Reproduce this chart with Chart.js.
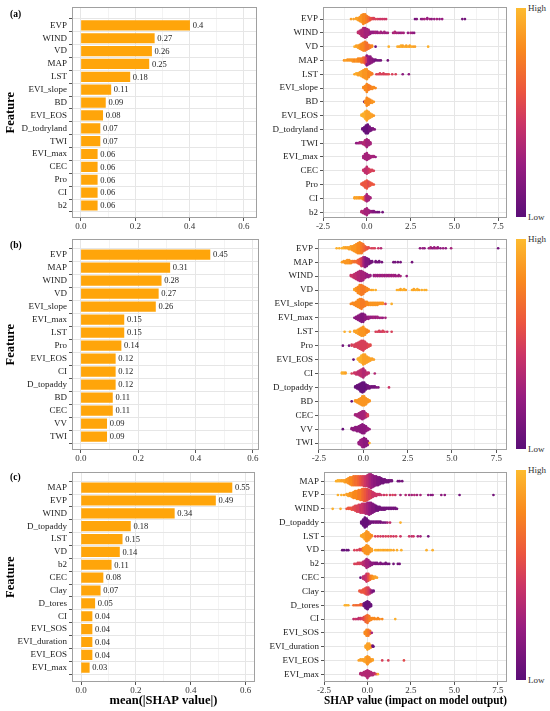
<!DOCTYPE html>
<html>
<head>
<meta charset="utf-8">
<script src="https://cdn.jsdelivr.net/npm/chart.js@4.4.1/dist/chart.umd.min.js"></script>
<style>
  body { margin: 0; background: #fff; }
  #page { position: relative; width: 550px; height: 711px; overflow: hidden; font-family: 'Liberation Serif', 'Times New Roman', serif; }
  canvas { position: absolute; }
  .letter { position: absolute; left: 10px; font-weight: bold; font-size: 9.5px; line-height: 10px; }
  .cb { position: absolute; left: 516px; width: 10px; }
  .cbl { position: absolute; left: 528px; font-size: 9px; line-height: 10px; color: #333; }
</style>
</head>
<body>
<div id="page"></div>
<script>
// ---- data ----
const barTicks = [0, 0.2, 0.4, 0.6];
const shapTicks = [-2.5, 0, 2.5, 5, 7.5];

const featuresA = ['EVP', 'WIND', 'VD', 'MAP', 'LST', 'EVI_slope', 'BD', 'EVI_EOS', 'D_todryland', 'TWI', 'EVI_max', 'CEC', 'Pro', 'CI', 'b2'];
const meanA = [0.4, 0.27, 0.26, 0.25, 0.18, 0.11, 0.09, 0.08, 0.07, 0.07, 0.06, 0.06, 0.06, 0.06, 0.06];

const featuresB = ['EVP', 'MAP', 'WIND', 'VD', 'EVI_slope', 'EVI_max', 'LST', 'Pro', 'EVI_EOS', 'CI', 'D_topaddy', 'BD', 'CEC', 'VV', 'TWI'];
const meanB = [0.45, 0.31, 0.28, 0.27, 0.26, 0.15, 0.15, 0.14, 0.12, 0.12, 0.12, 0.11, 0.11, 0.09, 0.09];

const featuresC = ['MAP', 'EVP', 'WIND', 'D_topaddy', 'LST', 'VD', 'b2', 'CEC', 'Clay', 'D_tores', 'CI', 'EVI_SOS', 'EVI_duration', 'EVI_EOS', 'EVI_max'];
const meanC = [0.55, 0.49, 0.34, 0.18, 0.15, 0.14, 0.11, 0.08, 0.07, 0.05, 0.04, 0.04, 0.04, 0.04, 0.03];

// SHAP values per feature as [shap, how many samples, feature value 0 (low) .. 1 (high)]
const swarmA = [
  [[-0.9,1,.9],[-0.75,1,.9],[-0.6,2,.9],[-0.5,3,.9],[-0.4,5,.85],[-0.3,8,.85],[-0.2,11,.8],[-0.1,10,.8],[0,7,.75],[0.1,5,.7],[0.2,3,.6],[0.3,2,.55],[0.4,2,.5],[0.5,1,.5],[0.6,1,.5],[0.7,1,.45],[0.8,1,.45],[0.9,1,.45],[1.0,1,.45],[1.1,1,.45],[2.75,1,.1],[2.85,1,.15],[3.1,1,.2],[3.2,1,.25],[3.3,1,.3],[3.45,2,.25],[3.6,1,.3],[3.7,1,.2],[3.85,1,.25],[4.0,1,.3],[4.15,1,.2],[4.3,1,.25],[5.45,1,.1],[5.6,1,.1]],
  [[-0.5,2,.4],[-0.4,4,.4],[-0.3,7,.35],[-0.2,10,.35],[-0.1,11,.3],[0,9,.3],[0.1,6,.3],[0.2,3,.25],[0.3,2,.25],[0.4,2,.25],[0.5,2,.3],[0.6,2,.25],[0.7,1,.3],[0.8,2,.3],[0.9,1,.25],[1.0,2,.3],[1.1,1,.25],[1.2,1,.3],[1.5,1,.3],[1.6,2,.35],[1.7,1,.3],[1.8,1,.3],[1.9,1,.25],[2.0,1,.3],[2.1,1,.3],[2.35,1,.25],[2.5,1,.3],[2.6,1,.25],[2.7,1,.2]],
  [[-0.7,1,.95],[-0.6,2,.9],[-0.5,3,.9],[-0.4,5,.85],[-0.3,7,.8],[-0.2,9,.8],[-0.1,10,.75],[0,8,.7],[0.1,5,.7],[0.2,3,.75],[0.3,2,.8],[0.5,1,.05],[1.25,1,.95],[1.75,1,.95],[1.85,1,.9],[1.95,2,.95],[2.05,2,.9],[2.15,1,.95],[2.25,2,.9],[2.35,1,.95],[2.45,2,.9],[2.55,1,.95],[2.65,1,.9],[2.75,1,.9],[3.5,1,.95]],
  [[-1.3,1,.85],[-1.2,1,.9],[-1.1,2,.85],[-1.0,2,.85],[-0.9,2,.85],[-0.8,3,.85],[-0.7,3,.8],[-0.6,3,.85],[-0.5,4,.8],[-0.4,4,.8],[-0.3,5,.75],[-0.2,6,.7],[-0.1,7,.6],[0,8,.45],[0,3,.2],[0.1,9,.25],[0.2,8,.2],[0.3,5,.2],[0.4,3,.15],[0.5,2,.1],[0.6,1,.1],[0.7,1,.1],[0.8,1,.1],[1.2,1,.1]],
  [[-0.7,1,.9],[-0.6,2,.95],[-0.5,3,.9],[-0.4,4,.9],[-0.3,6,.9],[-0.2,8,.85],[-0.1,10,.85],[0,11,.85],[0.1,7,.8],[0.2,4,.8],[0.3,2,.75],[0.55,1,.5],[0.65,1,.5],[0.75,2,.5],[0.85,1,.5],[0.95,2,.5],[1.05,1,.5],[1.15,1,.5],[1.25,1,.55],[1.45,1,.5],[1.65,1,.5],[2.05,1,.2],[2.4,1,.2]],
  [[-0.2,2,.8],[-0.1,5,.8],[0,9,.8],[0.1,6,.75],[0.2,4,.75],[0.3,3,.8],[0.4,2,.8],[0.5,1,.8]],
  [[-0.15,1,.05],[-0.1,3,.8],[0,9,.8],[0.1,7,.8],[0.2,4,.8],[0.3,3,.85],[0.4,1,.85]],
  [[-0.3,2,.95],[-0.2,4,.95],[-0.1,8,.95],[0,11,.9],[0.1,8,.9],[0.2,5,.9],[0.3,3,.9],[0.4,1,.85]],
  [[-0.25,2,.05],[-0.15,5,.05],[-0.05,9,.05],[0.05,10,.05],[0.15,6,.1],[0.25,3,.1],[0.35,2,.15],[0.45,1,.15]],
  [[-0.6,1,.2],[-0.5,1,.25],[-0.4,2,.3],[-0.3,2,.3],[-0.2,3,.35],[-0.1,6,.35],[0,9,.3],[0.1,6,.3],[0.2,3,.3]],
  [[-0.2,3,.3],[-0.1,6,.3],[0,8,.3],[0.1,5,.3],[0.2,3,.3],[0.3,2,.3],[0.4,2,.3],[0.5,1,.25]],
  [[-0.2,2,.45],[-0.1,5,.4],[0,8,.4],[0.1,5,.45],[0.2,3,.5],[0.3,2,.5],[0.4,1,.5]],
  [[-0.3,2,.6],[-0.2,4,.6],[-0.1,7,.6],[0,9,.6],[0.1,6,.55],[0.2,4,.6],[0.3,2,.6],[0.4,1,.6]],
  [[-0.7,2,.9],[-0.6,2,.9],[-0.5,2,.9],[-0.4,2,.85],[-0.3,2,.85],[-0.2,3,.8],[-0.1,5,.5],[0,8,.3],[0.1,5,.3],[0.2,2,.3]],
  [[-0.3,2,.35],[-0.2,3,.35],[-0.1,6,.3],[0,8,.3],[0.1,4,.3],[0.2,2,.25],[0.3,2,.2],[0.4,2,.15],[0.5,1,.15],[0.6,1,.1],[0.7,1,.1],[0.9,1,.1]]
];

const swarmB = [
  [[-1.5,1,.95],[-1.35,1,.95],[-1.2,1,.95],[-1.1,2,.95],[-1.0,2,.9],[-0.9,2,.9],[-0.8,3,.9],[-0.7,4,.9],[-0.6,5,.85],[-0.5,7,.85],[-0.4,9,.85],[-0.3,11,.8],[-0.2,12,.8],[-0.1,11,.75],[0,8,.7],[0.1,5,.65],[0.2,3,.6],[0.3,2,.55],[0.45,1,.5],[0.55,1,.5],[0.65,1,.5],[0.85,1,.45],[1.0,1,.35],[3.2,1,.2],[3.35,1,.25],[3.45,1,.2],[3.7,1,.25],[3.8,2,.3],[3.9,1,.2],[4.0,2,.25],[4.1,1,.3],[4.2,2,.25],[4.35,1,.2],[4.5,1,.25],[4.65,1,.2],[4.95,1,.3],[7.6,1,.1]],
  [[-1.2,1,.9],[-1.1,2,.85],[-1.0,3,.85],[-0.9,4,.85],[-0.8,4,.85],[-0.7,3,.8],[-0.6,2,.75],[-0.5,2,.7],[-0.4,2,.7],[-0.3,4,.65],[-0.2,6,.6],[-0.1,9,.5],[0,10,.35],[0.1,11,.2],[0.2,9,.15],[0.3,6,.15],[0.4,3,.1],[0.5,2,.1],[0.7,2,.1],[0.8,1,.1],[0.9,2,.1],[1.05,1,.1],[1.7,1,.1],[1.8,1,.1],[1.95,1,.1],[2.1,1,.1],[2.75,1,.1]],
  [[-0.7,2,.45],[-0.6,3,.45],[-0.5,5,.4],[-0.4,7,.4],[-0.3,9,.35],[-0.2,11,.35],[-0.1,11,.3],[0,9,.3],[0.1,6,.3],[0.2,4,.25],[0.3,3,.25],[0.4,2,.25],[0.6,2,.25],[0.7,2,.3],[0.8,2,.25],[0.9,2,.3],[1.0,2,.25],[1.1,2,.3],[1.2,2,.25],[1.3,2,.3],[1.4,2,.25],[1.5,2,.3],[1.6,2,.25],[1.7,2,.3],[1.8,2,.25],[1.9,1,.3],[2.0,2,.25],[2.1,1,.3],[2.45,1,.25]],
  [[-0.5,2,.9],[-0.4,4,.85],[-0.3,7,.8],[-0.2,10,.8],[-0.1,11,.75],[0,9,.75],[0.1,6,.75],[0.2,4,.8],[0.3,2,.8],[0.45,1,.9],[0.55,1,.95],[0.7,1,.95],[1.9,1,.95],[2.0,1,.95],[2.1,2,.9],[2.2,1,.95],[2.3,2,.95],[2.4,1,.9],[2.75,1,.95],[2.85,2,.9],[2.95,1,.95],[3.05,2,.95],[3.15,1,.9],[3.3,1,.95],[3.45,1,.95],[3.55,1,.95]],
  [[-0.7,1,.8],[-0.6,2,.8],[-0.5,3,.8],[-0.4,5,.8],[-0.3,8,.8],[-0.2,10,.8],[-0.1,11,.75],[0,8,.75],[0.1,5,.75],[0.2,4,.8],[0.3,3,.8],[0.4,3,.85],[0.5,3,.85],[0.6,3,.85],[0.7,3,.85],[0.8,3,.85],[0.9,2,.85],[1.0,2,.85],[1.1,2,.85],[1.25,1,.5],[1.6,1,.95]],
  [[-0.5,1,.2],[-0.4,3,.2],[-0.3,5,.2],[-0.2,7,.2],[-0.1,9,.15],[0,9,.15],[0.1,6,.2],[0.2,3,.2],[0.3,3,.25],[0.4,2,.25],[0.5,2,.25],[0.6,2,.3],[0.7,2,.25],[0.8,2,.3],[0.9,1,.25],[1.0,1,.3],[1.1,1,.25],[1.25,1,.3]],
  [[-1.05,1,.95],[-0.75,1,.95],[-0.5,2,.9],[-0.4,3,.9],[-0.3,5,.9],[-0.2,7,.85],[-0.1,9,.85],[0,10,.85],[0.1,7,.85],[0.2,4,.8],[0.3,2,.8],[0.7,1,.5],[0.8,1,.5],[0.9,2,.5],[1.0,1,.45],[1.1,2,.5],[1.2,1,.5],[1.35,1,.45],[1.6,1,.5]],
  [[-1.15,1,.1],[-0.8,1,.1],[-0.65,2,.5],[-0.5,3,.5],[-0.4,4,.5],[-0.3,6,.5],[-0.2,8,.5],[-0.1,10,.5],[0,11,.5],[0.1,8,.5],[0.2,5,.5],[0.3,3,.55],[0.4,2,.55]],
  [[-0.55,1,.05],[-0.3,2,.95],[-0.2,5,.95],[-0.1,8,.95],[0,11,.9],[0.1,10,.9],[0.2,7,.9],[0.3,5,.9],[0.4,3,.9],[0.5,2,.9],[0.6,1,.9]],
  [[-1.2,2,.95],[-1.1,2,.95],[-1.0,2,.9],[-0.65,1,.5],[-0.5,2,.45],[-0.4,3,.45],[-0.3,4,.4],[-0.2,6,.4],[-0.1,8,.4],[0,10,.35],[0.1,6,.35],[0.2,3,.4],[0.3,2,.4],[0.65,1,.35]],
  [[-0.45,2,.05],[-0.35,4,.05],[-0.25,6,.05],[-0.15,9,.05],[-0.05,11,.05],[0.05,10,.05],[0.15,6,.05],[0.25,4,.1],[0.35,3,.1],[0.45,2,.1],[0.55,2,.1],[0.65,2,.1],[0.75,1,.15],[0.85,1,.15],[1.45,1,.45]],
  [[-0.65,1,.05],[-0.45,2,.85],[-0.35,3,.85],[-0.25,5,.85],[-0.15,7,.85],[-0.05,10,.85],[0.05,10,.85],[0.15,7,.85],[0.25,4,.85],[0.35,2,.85]],
  [[-0.45,2,.3],[-0.35,3,.3],[-0.25,5,.3],[-0.15,7,.3],[-0.05,9,.3],[0.05,8,.3],[0.15,5,.35],[0.25,3,.5]],
  [[-1.15,1,.05],[-0.65,2,.2],[-0.55,3,.2],[-0.45,4,.2],[-0.35,5,.2],[-0.25,6,.2],[-0.15,8,.2],[-0.05,10,.2],[0.05,9,.2],[0.15,6,.2],[0.25,3,.25],[0.35,1,.25]],
  [[-0.25,3,.25],[-0.15,6,.25],[-0.05,9,.25],[0.05,10,.2],[0.15,8,.2],[0.25,5,.2],[0.35,1,.95]]
];

const swarmC = [
  [[-1.8,1,.95],[-1.7,2,.95],[-1.6,2,.95],[-1.5,2,.9],[-1.4,2,.9],[-1.3,3,.9],[-1.2,4,.85],[-1.1,6,.85],[-1.0,8,.8],[-0.9,9,.8],[-0.8,10,.75],[-0.7,10,.7],[-0.6,10,.7],[-0.5,10,.65],[-0.4,10,.6],[-0.3,10,.55],[-0.2,11,.5],[-0.1,11,.45],[0,12,.4],[0.1,14,.35],[0.2,15,.3],[0.3,13,.25],[0.4,11,.2],[0.5,10,.2],[0.6,9,.15],[0.7,8,.15],[0.8,6,.1],[0.9,5,.1],[1.0,4,.1],[1.1,3,.1],[1.2,3,.1],[1.3,2,.1],[1.4,2,.1],[1.75,1,.1],[1.85,1,.1],[2.0,1,.1]],
  [[-1.7,1,.95],[-1.5,1,.95],[-1.35,1,.9],[-1.2,2,.9],[-1.1,3,.9],[-1.0,4,.85],[-0.9,5,.85],[-0.8,7,.8],[-0.7,8,.8],[-0.6,9,.8],[-0.5,10,.75],[-0.4,11,.75],[-0.3,12,.7],[-0.2,13,.65],[-0.1,13,.6],[0,12,.55],[0.1,10,.5],[0.2,8,.5],[0.3,6,.45],[0.4,4,.45],[0.5,3,.45],[0.6,2,.45],[0.7,2,.45],[0.8,1,.45],[0.95,1,.45],[1.1,1,.5],[1.3,1,.45],[1.45,1,.5],[1.6,1,.45],[1.9,1,.3],[2.2,1,.35],[2.4,1,.3],[2.55,1,.3],[2.7,1,.35],[2.85,1,.3],[3.05,1,.3],[3.5,1,.2],[3.65,1,.15],[3.75,1,.2],[4.25,1,.2],[4.45,1,.2],[5.3,1,.1],[7.25,1,.1]],
  [[-2.0,1,.95],[-1.55,1,.95],[-1.2,1,.6],[-1.1,2,.6],[-1.0,2,.6],[-0.9,3,.6],[-0.8,4,.55],[-0.7,6,.55],[-0.6,7,.5],[-0.5,8,.5],[-0.4,9,.45],[-0.3,10,.45],[-0.2,10,.4],[-0.1,11,.35],[0,12,.3],[0.1,13,.25],[0.2,12,.2],[0.3,10,.15],[0.4,8,.15],[0.5,6,.1],[0.6,5,.1],[0.7,4,.1],[0.8,3,.1],[0.9,3,.1],[1.0,3,.1],[1.1,2,.1],[1.2,2,.1],[1.3,2,.1],[1.4,2,.1],[1.5,2,.1],[1.6,2,.1],[1.7,1,.1]],
  [[-0.35,3,.05],[-0.25,7,.05],[-0.15,11,.05],[-0.05,9,.05],[0.05,5,.05],[0.15,3,.1],[0.25,2,.1],[0.35,2,.1],[0.45,2,.15],[0.55,2,.1],[0.65,2,.15],[0.75,2,.1],[0.85,1,.15],[0.95,1,.1],[1.05,1,.15],[1.15,1,.3],[1.3,1,.4],[1.9,1,.95]],
  [[-0.35,2,.9],[-0.25,4,.9],[-0.15,7,.9],[-0.05,11,.85],[0.05,9,.85],[0.15,5,.85],[0.25,2,.8],[0.45,1,.5],[0.6,1,.5],[0.75,1,.5],[0.9,1,.45],[1.05,1,.5],[1.2,1,.5],[1.35,1,.5],[1.5,1,.45],[1.65,1,.5],[1.9,1,.45],[2.4,1,.45],[2.55,1,.4],[2.65,1,.45],[2.9,1,.3],[3.05,1,.3],[3.5,1,.1]],
  [[-1.45,1,.05],[-1.35,1,.05],[-1.2,1,.05],[-1.1,1,.05],[-0.75,1,.5],[-0.6,1,.5],[-0.45,2,.5],[-0.35,2,.55],[-0.25,4,.8],[-0.15,7,.85],[-0.05,10,.85],[0.05,9,.85],[0.15,5,.85],[0.25,3,.9],[0.45,1,.95],[0.55,1,.95],[0.65,1,.9],[0.75,1,.95],[0.85,1,.95],[0.95,1,.9],[1.05,1,.95],[1.15,1,.9],[1.25,1,.95],[1.35,1,.95],[1.5,1,.9],[1.7,1,.95],[1.95,1,.95],[3.4,1,.95],[3.75,1,.95]],
  [[-0.75,1,.5],[-0.65,1,.5],[-0.55,2,.5],[-0.45,2,.5],[-0.35,2,.45],[-0.25,4,.4],[-0.15,6,.35],[-0.05,10,.3],[0.05,8,.3],[0.15,5,.25],[0.25,3,.2],[0.35,2,.2],[0.45,2,.15],[0.55,2,.15],[0.65,1,.15],[0.75,2,.15],[0.85,1,.1],[0.95,1,.15],[1.05,2,.1],[1.15,1,.1],[1.25,1,.1],[1.5,1,.1],[1.75,1,.1],[1.85,1,.1]],
  [[-0.4,1,.05],[-0.25,3,.4],[-0.15,5,.4],[-0.05,9,.45],[0.05,8,.55],[0.15,5,.7],[0.25,4,.8],[0.35,3,.85],[0.45,2,.9],[0.55,1,.9]],
  [[-0.45,2,.6],[-0.35,3,.6],[-0.25,4,.6],[-0.15,6,.6],[-0.05,8,.55],[0.05,8,.5],[0.15,5,.4],[0.25,3,.2],[0.35,2,.1]],
  [[-1.3,1,.95],[-1.2,1,.95],[-1.1,1,.95],[-0.8,1,.7],[-0.7,1,.7],[-0.6,1,.65],[-0.5,1,.7],[-0.4,2,.65],[-0.3,2,.6],[-0.2,4,.1],[-0.1,7,.05],[0,9,.05],[0.1,6,.05],[0.2,3,.05]],
  [[-0.8,1,.4],[-0.7,1,.45],[-0.6,1,.4],[-0.5,2,.4],[-0.4,2,.45],[-0.3,2,.5],[-0.2,4,.55],[-0.1,7,.65],[0,9,.7],[0.1,6,.75],[0.2,3,.8],[0.3,2,.8],[0.4,2,.8],[0.5,1,.8],[0.6,2,.8],[0.7,1,.8],[0.85,1,.8],[1.6,1,.95]],
  [[-0.15,3,.8],[-0.05,7,.8],[0.05,7,.75],[0.15,4,.7],[0.25,1,.3]],
  [[-0.1,3,.9],[0,7,.9],[0.1,6,.9],[0.2,3,.85],[0.3,2,.1],[0.35,1,.05]],
  [[-0.5,1,.9],[-0.4,2,.9],[-0.3,2,.9],[-0.2,3,.9],[-0.1,6,.9],[0,9,.85],[0.1,6,.85],[0.2,3,.85],[0.3,2,.9],[0.85,1,.5],[1.2,1,.5],[2.1,1,.55]],
  [[-0.4,2,.35],[-0.3,3,.35],[-0.2,4,.35],[-0.1,6,.35],[0,9,.35],[0.1,6,.35],[0.2,4,.35],[0.3,3,.35],[0.4,2,.4],[0.5,1,.5],[0.6,1,.95]]
];

// ---- layout (pixels on the 550x711 page) ----
const rows = [
  { letter: '(a)', features: featuresA, mean: meanA, swarm: swarmA, top: 0, h: 232, T: 2, B: 218, first: 14, last: 212,
    bar: { L: 72, R: 257, min: -0.033, max: 0.648 }, shap: { L: 323, R: 507, min: -2.5, max: 8.0 }, cb: [8, 217] },
  { letter: '(b)', features: featuresB, mean: meanB, swarm: swarmB, top: 232, h: 233, T: 236, B: 450, first: 245, last: 443,
    bar: { L: 72, R: 259, min: -0.031, max: 0.621 }, shap: { L: 318, R: 507, min: -2.55, max: 8.1 }, cb: [239, 449] },
  { letter: '(c)', features: featuresC, mean: meanC, swarm: swarmC, top: 465, h: 246, T: 468, B: 682, first: 477, last: 674,
    bar: { L: 72, R: 255, min: -0.033, max: 0.634 }, shap: { L: 324, R: 507, min: -2.5, max: 8.03 }, cb: [470, 680],
    titles: ['mean(|SHAP value|)', 'SHAP value (impact on model output)'] }
];
const LEFT_W = 262, RIGHT_X = 262, RIGHT_W = 250;
const DOT_R = 1.35, STACK_PX = 1.0;

const RAMP = [[0, [91, 14, 120]], [0.25, [152, 29, 128]], [0.45, [204, 53, 102]], [0.6, [236, 85, 63]], [0.8, [249, 137, 30]], [1, [253, 187, 47]]];
function rampColor(t) {
  for (let i = 1; i < RAMP.length; i++) {
    if (t <= RAMP[i][0]) {
      const [t0, a] = RAMP[i - 1], [t1, b] = RAMP[i];
      const f = (t - t0) / (t1 - t0);
      return 'rgb(' + a.map((v, k) => Math.round(v + (b[k] - v) * f)).join(',') + ')';
    }
  }
  return 'rgb(' + RAMP[RAMP.length - 1][1].join(',') + ')';
}

Chart.defaults.font.family = "'Liberation Serif', 'Times New Roman', serif";
Chart.defaults.color = '#222';
Chart.defaults.animation = false;

const frame = {
  id: 'frame',
  afterDraw(chart) {
    const { ctx, chartArea: a } = chart;
    ctx.save();
    ctx.strokeStyle = '#a0a0a0';
    ctx.lineWidth = 1;
    ctx.strokeRect(Math.round(a.left) + 0.5, Math.round(a.top) + 0.5, Math.round(a.right - a.left) - 1, Math.round(a.bottom - a.top) - 1);
    ctx.restore();
  }
};

const barValues = {
  id: 'barValues',
  afterDatasetsDraw(chart) {
    const { ctx } = chart;
    const meta = chart.getDatasetMeta(0);
    const vals = chart.data.datasets[0].data;
    ctx.save();
    ctx.font = "8.5px 'Liberation Serif'";
    ctx.fillStyle = '#222';
    ctx.textBaseline = 'middle';
    meta.data.forEach((el, i) => ctx.fillText(String(vals[i].x), el.x + 3, el.y + 0.5));
    ctx.restore();
  }
};

function makeCanvas(left, top, w, h) {
  const c = document.createElement('canvas');
  c.width = w; c.height = h;
  c.style.left = left + 'px'; c.style.top = top + 'px';
  c.style.width = w + 'px'; c.style.height = h + 'px';
  document.getElementById('page').appendChild(c);
  return c;
}

function xScale(box, majors, row, title) {
  return {
    type: 'linear', min: box.min, max: box.max,
    afterBuildTicks: s => {
      const t = [];
      majors.forEach((v, i) => {
        t.push({ value: v });
        if (i < majors.length - 1) t.push({ value: (v + majors[i + 1]) / 2, minor: true });
      });
      s.ticks = t;
    },
    afterFit: s => { s.height = row.top + row.h - row.B; },
    ticks: { autoSkip: false, maxRotation: 0, padding: 0, color: '#333', font: { size: 9 },
      callback: (v, i, ticks) => ticks[i].minor ? '' : v.toFixed(1) },
    grid: { color: c => c.tick && c.tick.minor ? '#f3f3f3' : '#e6e6e6',
      tickColor: c => c.tick && c.tick.minor ? 'rgba(0,0,0,0)' : '#555', tickLength: 3 },
    border: { display: false },
    title: { display: !!title, text: title || '', color: '#000', font: { size: 12.5, weight: 'bold' }, padding: { top: 0, bottom: 3 } }
  };
}

function yScale(row, width, title) {
  const spacing = (row.last - row.first) / (row.features.length - 1);
  return {
    type: 'linear', reverse: true,
    min: -(row.first - row.T) / spacing,
    max: row.features.length - 1 + (row.B - row.last) / spacing,
    afterBuildTicks: s => { s.ticks = row.features.map((_, i) => ({ value: i })); },
    afterFit: s => { s.width = width; },
    ticks: { autoSkip: false, padding: 2, color: '#1a1a1a', font: { size: 9 }, callback: v => row.features[v] },
    grid: { color: '#e6e6e6', tickColor: '#555', tickLength: 3 },
    border: { display: false },
    title: { display: !!title, text: title || '', color: '#000', font: { size: 12.5, weight: 'bold' }, padding: { top: 3, bottom: 0 } }
  };
}

function swarmPoints(row) {
  const spacing = (row.last - row.first) / (row.features.length - 1);
  const step = STACK_PX / spacing;
  const pts = [], cols = [];
  row.swarm.forEach((groups, r) => {
    const used = new Map();
    groups.forEach(([x, n, c]) => {
      let k = used.get(x) || 0;
      for (let j = 0; j < n; j++, k++) {
        const off = Math.ceil(k / 2) * step * (k % 2 ? -1 : 1);
        pts.push({ x: x, y: r + off });
        cols.push(rampColor(c));
      }
      used.set(x, k);
    });
  });
  return { pts, cols };
}

const page = document.getElementById('page');
const gradient = 'linear-gradient(to top,' + RAMP.map(([t, c]) => 'rgb(' + c.join(',') + ') ' + (t * 100) + '%').join(',') + ')';

rows.forEach(row => {
  const titles = row.titles || [];

  // bar chart: mean |SHAP|
  new Chart(makeCanvas(0, row.top, LEFT_W, row.h), {
    type: 'bar',
    data: { datasets: [{
      data: row.mean.map((v, i) => ({ x: v, y: i })),
      backgroundColor: '#ffa50a', borderWidth: 0, barThickness: 9.5
    }] },
    options: {
      responsive: false, indexAxis: 'y',
      layout: { padding: { top: row.T - row.top, right: LEFT_W - row.bar.R, left: 0, bottom: 0 } },
      plugins: { legend: { display: false }, tooltip: { enabled: false } },
      scales: { x: xScale(row.bar, barTicks, row, titles[0]), y: yScale(row, row.bar.L, 'Feature') }
    },
    plugins: [barValues, frame]
  });

  // beeswarm of SHAP values
  const sw = swarmPoints(row);
  new Chart(makeCanvas(RIGHT_X, row.top, RIGHT_W, row.h), {
    type: 'scatter',
    data: { datasets: [{ data: sw.pts, pointBackgroundColor: sw.cols, pointBorderWidth: 0, pointRadius: DOT_R }] },
    options: {
      responsive: false,
      layout: { padding: { top: row.T - row.top, right: RIGHT_X + RIGHT_W - row.shap.R, left: 0, bottom: 0 } },
      plugins: { legend: { display: false }, tooltip: { enabled: false } },
      scales: { x: xScale(row.shap, shapTicks, row, titles[1]), y: yScale(row, row.shap.L - RIGHT_X) }
    },
    plugins: [frame]
  });

  const letter = document.createElement('div');
  letter.className = 'letter'; letter.textContent = row.letter;
  letter.style.top = (row.first - 5) + 'px';
  page.appendChild(letter);

  const cb = document.createElement('div');
  cb.className = 'cb'; cb.style.top = row.cb[0] + 'px'; cb.style.height = (row.cb[1] - row.cb[0]) + 'px';
  cb.style.background = gradient;
  page.appendChild(cb);

  [['High', row.cb[0]], ['Low', row.cb[1]]].forEach(([txt, y]) => {
    const d = document.createElement('div');
    d.className = 'cbl'; d.textContent = txt; d.style.top = (y - 5) + 'px';
    page.appendChild(d);
  });
});
</script>
</body>
</html>
